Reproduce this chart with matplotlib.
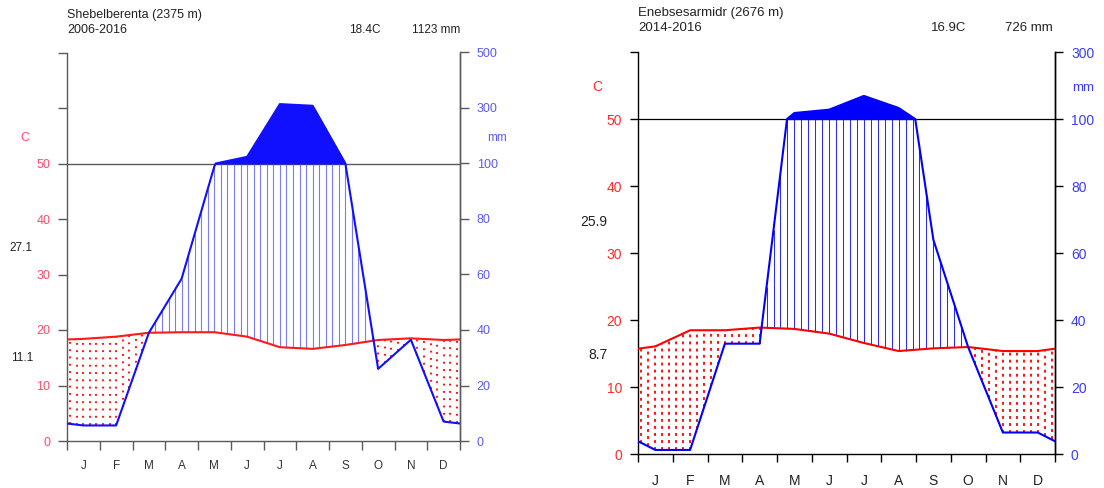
import numpy as np
import matplotlib
matplotlib.use("Agg")
import matplotlib.pyplot as plt
from matplotlib.ticker import FixedLocator, NullFormatter

plt.rcParams["font.family"] = ["Liberation Sans", "DejaVu Sans"]

W, H, DPI = 1104, 488, 100

months = ["J", "F", "M", "A", "M", "J", "J", "A", "S", "O", "N", "D"]

# Station 1: Shebelberenta
sheb_name = "Shebelberenta (2375 m)"
sheb_period = "2006-2016"
sheb_temp = [18.4, 18.8, 19.5, 19.6, 19.6, 18.8, 16.9, 16.6, 17.3, 18.2, 18.5, 18.2]
sheb_prec = [5.6, 5.6, 39, 58.5, 99, 124, 314, 308, 100, 26, 36.5, 7]
sheb_tmax, sheb_tmin = "27.1", "11.1"
sheb_mean_t, sheb_total_p = "18.4C", "1123 mm"

# Station 2: Enebsesarmidr
eneb_name = "Enebsesarmidr (2676 m)"
eneb_period = "2014-2016"
eneb_temp = [16.1, 18.5, 18.5, 18.9, 18.7, 18.0, 16.6, 15.4, 15.8, 16.0, 15.4, 15.4]
eneb_prec = [1.3, 1.3, 33, 33, 118, 128, 169, 133, 64, 32, 6.5, 6.5]
eneb_tmax, eneb_tmin = "25.9", "8.7"
eneb_mean_t, eneb_total_p = "16.9C", "726 mm"

# mm tick values on the right axis
prec_ticks = [0, 20, 40, 60, 80, 100, 300, 500]
temp_ticks = [0, 10, 20, 30, 40, 50]

XM = np.concatenate([[0.0], np.arange(12) + 0.5, [12.0]])


def extend(v):
    v = np.asarray(v, float)
    edge = (v[0] + v[-1]) / 2.0
    return np.concatenate([[edge], v, [edge]])


def compress(p):
    """Precipitation -> temperature-equivalent units (2 mm per C up to 100 mm, 20 mm per C above)."""
    p = np.asarray(p, float)
    return np.where(p <= 100, p / 2.0, 50 + (p - 100) / 20.0)


def add_crossings(x, p, level=100.0):
    xs, ps = [x[0]], [p[0]]
    for i in range(1, len(x)):
        a, b = p[i - 1], p[i]
        if (a - level) * (b - level) < 0:
            f = (level - a) / (b - a)
            xs.append(x[i - 1] + f * (x[i] - x[i - 1]))
            ps.append(level)
        xs.append(x[i])
        ps.append(b)
    return np.array(xs), np.array(ps)


def px(x, y):
    return x / W, 1 - y / H


def diagram(fig, rect, temp, prec, ytop, st):
    ax = fig.add_axes(rect)
    ax.set_xlim(0, 12)
    ax.set_ylim(0, ytop)

    t_ext = extend(temp)
    p_ext = extend(prec)

    # dry / wet hatching
    hx = 0.1 + 0.2 * np.arange(60)
    ht = np.interp(hx, XM, t_ext)
    hp = compress(np.interp(hx, XM, p_ext))
    wet = hp > ht
    ax.vlines(hx[wet], ht[wet], np.minimum(hp[wet], 50), color=st["hatch"],
              lw=st["hatch_lw"], zorder=2)
    ax.vlines(hx[~wet], hp[~wet], ht[~wet], color=st["red"], lw=st["dot_lw"],
              linestyles=[(0, st["dots"])], zorder=2)

    # very wet months (above 100 mm)
    cx, cp = add_crossings(XM, p_ext)
    cy = compress(cp)
    ax.fill_between(cx, 50, cy, where=cy >= 50, color=st["blue"], lw=0.8,
                    zorder=3)

    ax.axhline(50, color=st["axis"], lw=st["ref_lw"], zorder=1)

    ax.plot(XM, t_ext, color=st["red"], lw=st["line_lw"], zorder=4)
    ax.plot(cx, cy, color=st["blue"], lw=st["line_lw"], zorder=5)

    ax.spines["top"].set_visible(False)
    for s in ["left", "right", "bottom"]:
        ax.spines[s].set_color(st["axis"])
        ax.spines[s].set_linewidth(st["spine_lw"])

    # left temperature axis
    ax.yaxis.set_major_locator(FixedLocator(list(range(0, ytop + 1, 10))))
    ax.set_yticklabels([str(v) if v in temp_ticks else "" for v in range(0, ytop + 1, 10)])
    ax.tick_params(axis="y", direction="out", length=st["tick_len"], width=st["spine_lw"],
                   color=st["axis"], labelcolor=st["tlab"], labelsize=st["fs_tick"],
                   pad=st["tick_pad"])

    # months
    ax.xaxis.set_major_locator(FixedLocator(np.arange(13)))
    ax.xaxis.set_major_formatter(NullFormatter())
    ax.xaxis.set_minor_locator(FixedLocator(np.arange(12) + 0.5))
    ax.set_xticklabels(months, minor=True)
    ax.tick_params(axis="x", which="major", direction="out", length=st["tick_len"],
                   width=st["spine_lw"], color=st["axis"])
    ax.tick_params(axis="x", which="minor", length=0, pad=st["month_pad"],
                   labelsize=st["fs_month"], labelcolor=st["month_col"])

    # right precipitation axis
    ax2 = ax.twinx()
    ax2.set_ylim(0, ytop)
    ticks = [t for t in prec_ticks if compress(t) <= ytop + 1e-9]
    ax2.yaxis.set_major_locator(FixedLocator(compress(ticks)))
    ax2.set_yticklabels([str(t) for t in ticks])
    ax2.tick_params(axis="y", direction="out", length=st["tick_len"], width=st["spine_lw"],
                    color=st["axis"], labelcolor=st["plab"], labelsize=st["fs_tick"],
                    pad=st["tick_pad"])
    for s in ["top", "left", "bottom"]:
        ax2.spines[s].set_visible(False)
    ax2.spines["right"].set_color(st["axis"])
    ax2.spines["right"].set_linewidth(st["spine_lw"])
    return ax


fig = plt.figure(figsize=(W / DPI, H / DPI), dpi=DPI)

style_a = dict(hatch="#7a7aff", hatch_lw=0.8, red="#ff1a1a", blue="#1010ff",
               dot_lw=1.5, dots=(0.9, 2.6), axis="#5a5a5a", ref_lw=1.0, line_lw=1.5,
               spine_lw=1.0, tick_len=6.5, tick_pad=5.5, tlab="#ff4a6a", plab="#5a5aff",
               fs_tick=9, fs_month=8.5, month_pad=14, month_col="#333333")
style_b = dict(hatch="#2a2aff", hatch_lw=0.75, red="#ff0000", blue="#0000ff",
               dot_lw=1.3, dots=(1.6, 2.3), axis="#000000", ref_lw=0.9, line_lw=1.5,
               spine_lw=1.0, tick_len=6.0, tick_pad=5.5, tlab="#ff2a2a", plab="#3a3aff",
               fs_tick=10, fs_month=10, month_pad=14.5, month_col="#222222")

# Shebelberenta panel
ax_a = diagram(fig, [67 / W, (H - 441) / H, 393 / W, (441 - 52.5) / H],
               sheb_temp, sheb_prec, 70, style_a)
fig.text(*px(67, 15), sheb_name, fontsize=9, va="center", ha="left", color="#222222")
fig.text(*px(67, 30), sheb_period, fontsize=9, va="center", ha="left", color="#222222")
fig.text(*px(381, 30), sheb_mean_t, fontsize=8.5, va="center", ha="right", color="#222222")
fig.text(*px(460, 30), sheb_total_p, fontsize=8.5, va="center", ha="right", color="#222222")
fig.text(*px(25, 138), "C", fontsize=9, va="center", ha="center", color="#ff4a6a")
fig.text(*px(497, 138), "mm", fontsize=8.5, va="center", ha="center", color="#5a5aff")
fig.text(*px(21, 248), sheb_tmax, fontsize=8.5, va="center", ha="center", color="#222222")
fig.text(*px(22, 358), sheb_tmin, fontsize=8.5, va="center", ha="center", color="#222222")

# Enebsesarmidr panel
ax_b = diagram(fig, [638 / W, (H - 454.3) / H, 417 / W, (454.3 - 52) / H],
               eneb_temp, eneb_prec, 60, style_b)
fig.text(*px(638, 13), eneb_name, fontsize=9.5, va="center", ha="left", color="#222222")
fig.text(*px(638, 28), eneb_period, fontsize=9.5, va="center", ha="left", color="#222222")
fig.text(*px(966, 28), eneb_mean_t, fontsize=9.5, va="center", ha="right", color="#222222")
fig.text(*px(1053, 28), eneb_total_p, fontsize=9.5, va="center", ha="right", color="#222222")
fig.text(*px(597, 87), "C", fontsize=10, va="center", ha="center", color="#ff2a2a")
fig.text(*px(1083, 88), "mm", fontsize=9.5, va="center", ha="center", color="#3a3aff")
fig.text(*px(594, 222), eneb_tmax, fontsize=10, va="center", ha="center", color="#222222")
fig.text(*px(598, 355), eneb_tmin, fontsize=10, va="center", ha="center", color="#222222")

fig.savefig("out.png", dpi=DPI)
